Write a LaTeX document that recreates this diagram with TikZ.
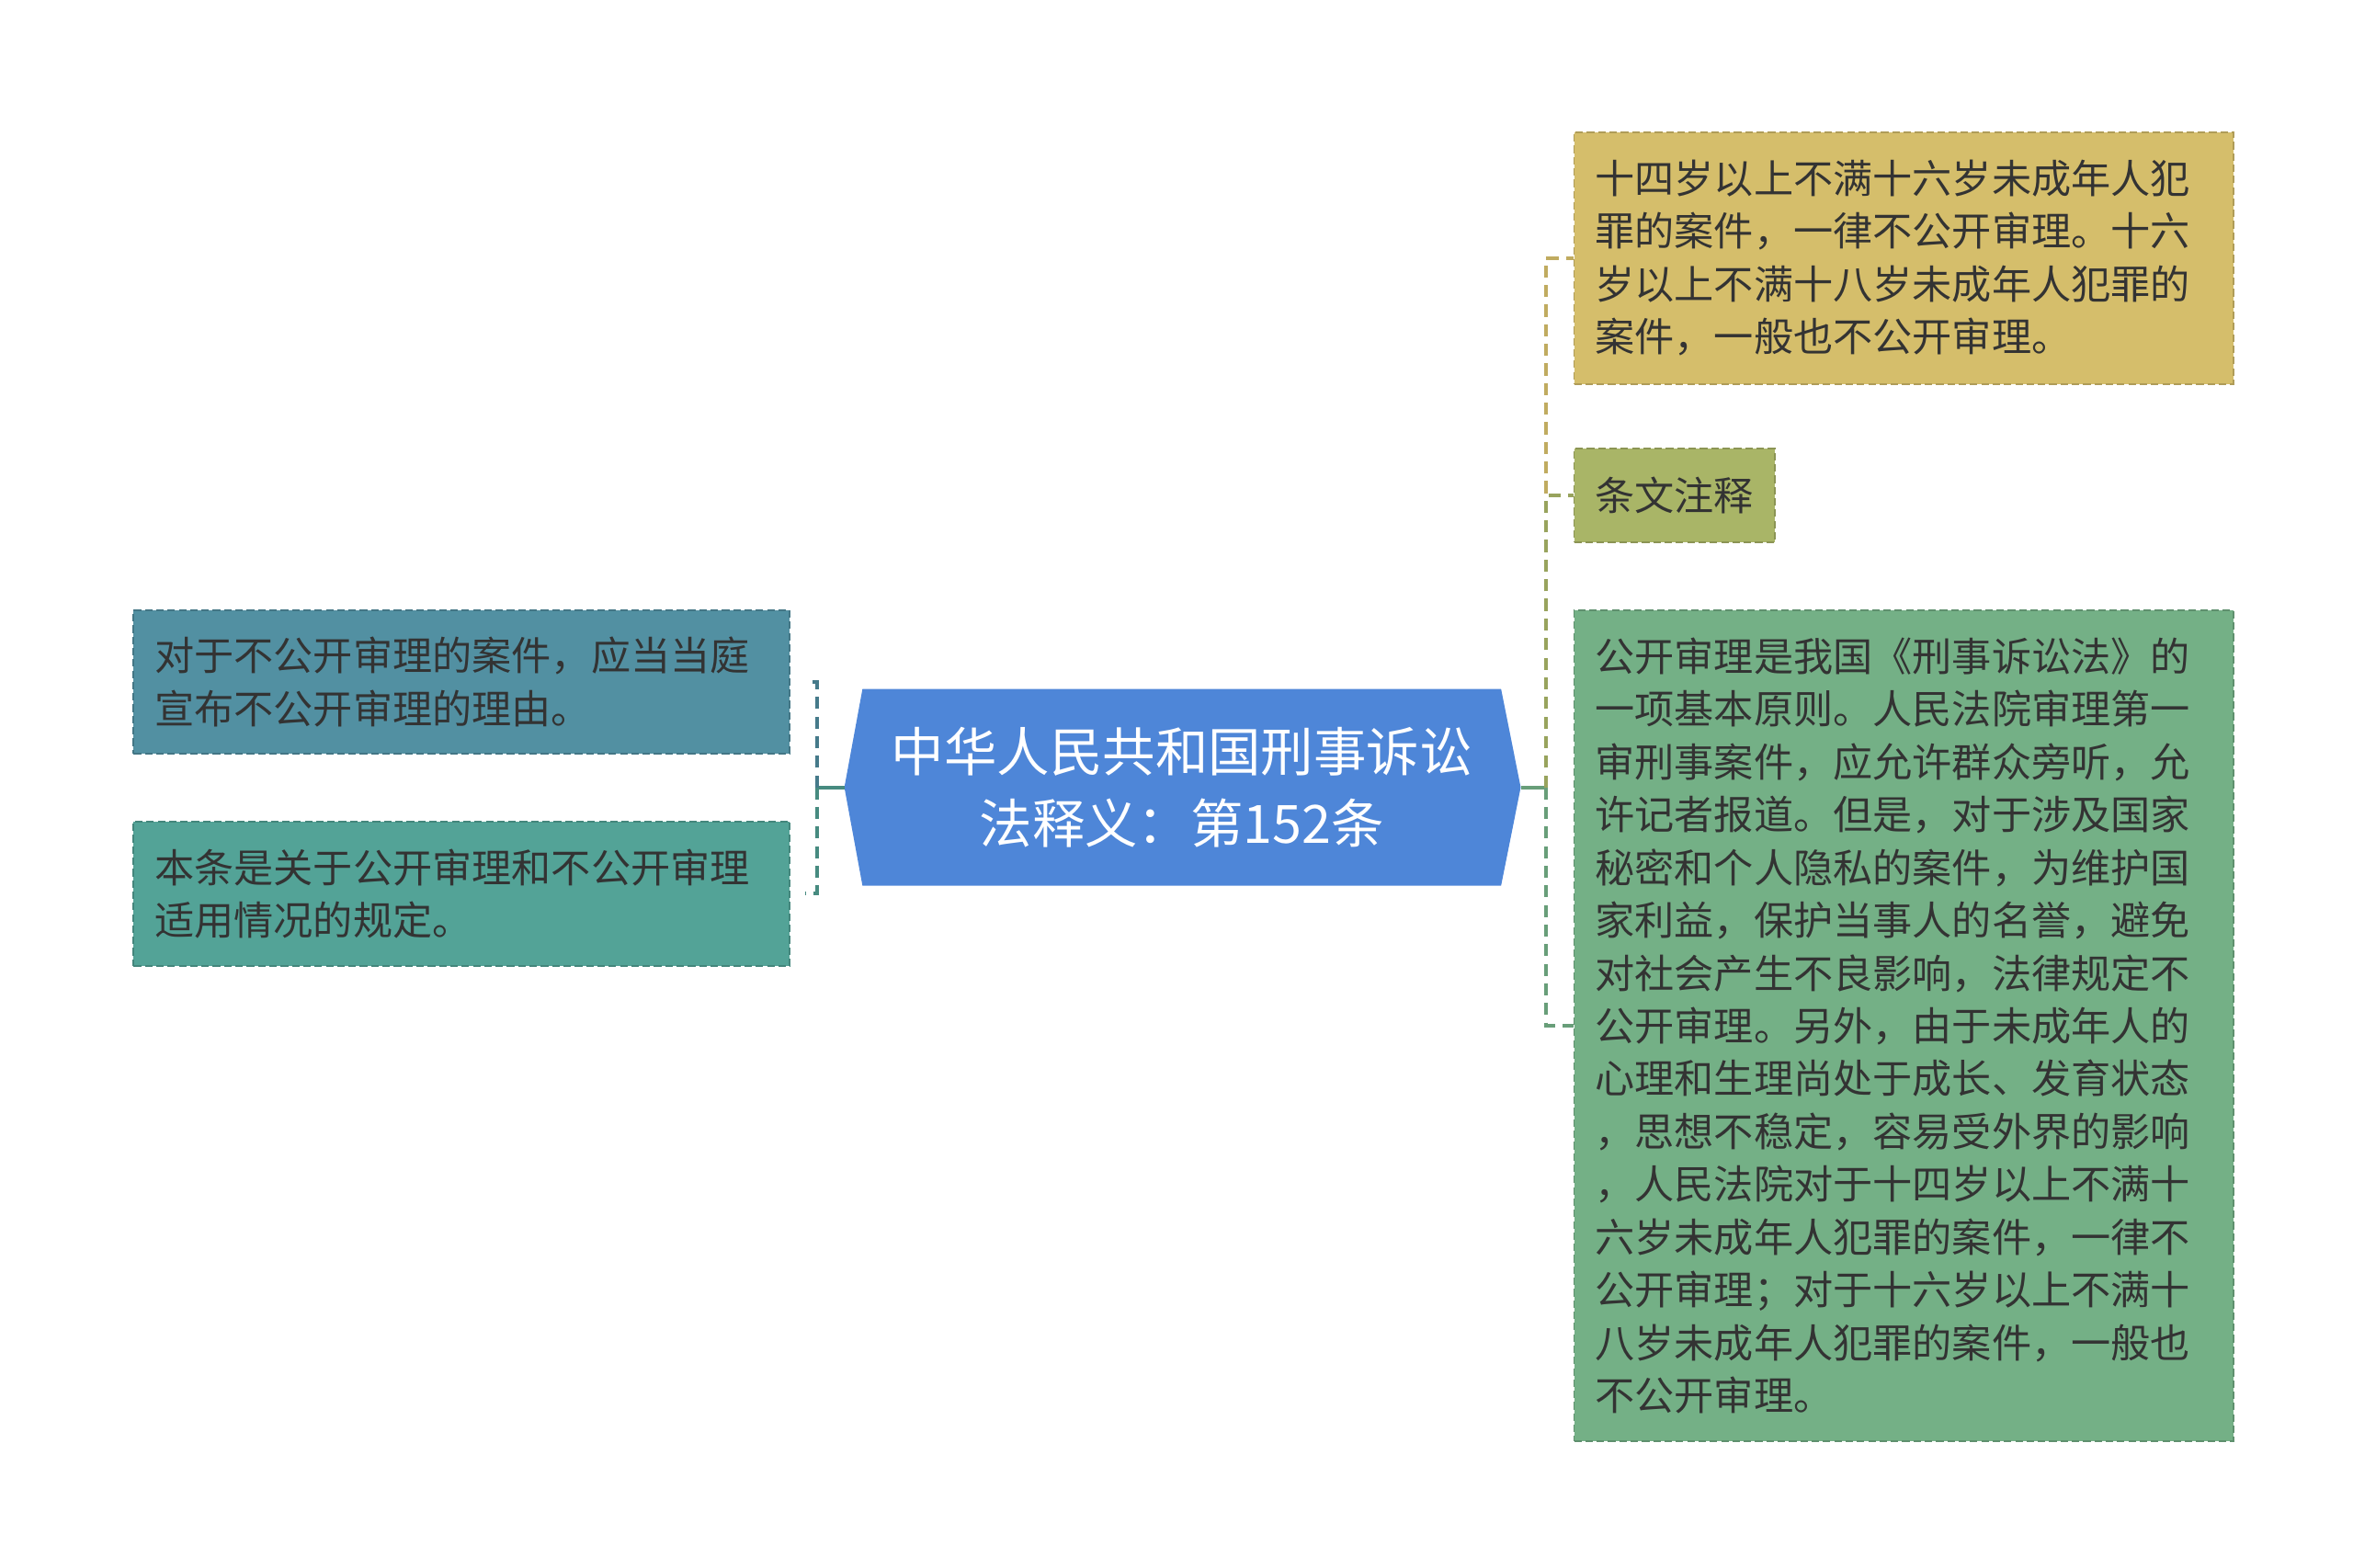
\documentclass[tikz,border=0pt]{standalone}
\usepackage{fontspec}
\newfontfamily\cjk{Noto Sans CJK SC}
\usetikzlibrary{backgrounds,calc}
\definecolor{hubc}{HTML}{4E86D8}
\definecolor{boxa}{HTML}{5290A2}
\definecolor{boxb}{HTML}{53A397}
\definecolor{boxy}{HTML}{D5BE6B}
\definecolor{boxo}{HTML}{A9B567}
\definecolor{boxg}{HTML}{74B086}
\definecolor{txt}{HTML}{333333}
\tikzset{
  leaf/.style={rectangle, draw=#1!82!black, fill=#1, dash pattern=on 5pt off 2.5pt,
    line width=1.1pt, inner xsep=14pt, inner ysep=0pt, anchor=north west, align=left,
    font=\cjk\fontsize{26.3}{35}\selectfont, text=txt},
  conn/.style={draw=#1, line width=2.4pt},
  dconn/.style={draw=#1, line width=2.4pt, dash pattern=on 8pt off 5pt},
}
\begin{document}
\begin{tikzpicture}[x=1pt,y=-1pt]
\useasboundingbox (0,0) rectangle (1560,1039);
% hub
\node[inner sep=0pt, minimum width=423pt, minimum height=130pt, align=center, text=white,
  font=\cjk\fontsize{35}{47}\selectfont] (hub) at (783.5,522) {中华人民共和国刑事诉讼\\法释义：第152条};
\coordinate (hubL) at ($(hub.west)+(-12,0)$);
\coordinate (hubR) at ($(hub.east)+(13,0)$);
\begin{scope}[on background layer]
\fill[hubc] (hub.north west) -- (hub.north east) -- (hubR) -- (hub.south east) -- (hub.south west) -- (hubL) -- cycle;
\end{scope}
% left leaves
\node[leaf=boxa, minimum width=435pt, minimum height=95pt, text width=407pt] (la) at (88,404)
  {对于不公开审理的案件，应当当庭\\宣布不公开审理的理由。};
\node[leaf=boxb, minimum width=435pt, minimum height=96pt, text width=407pt] (lb) at (88,544)
  {本条是关于公开审理和不公开审理\\适用情况的规定。};
% right leaves
\node[leaf=boxy, minimum width=437pt, minimum height=167pt, text width=409pt] (ry) at (1043,87)
  {十四岁以上不满十六岁未成年人犯\\罪的案件，一律不公开审理。十六\\岁以上不满十八岁未成年人犯罪的\\案件，一般也不公开审理。};
\node[leaf=boxo, minimum height=62pt] (ro) at (1043,297) {条文注释};
\node[leaf=boxg, minimum width=437pt, minimum height=551pt, text width=409pt] (rg) at (1043,404)
  {公开审理是我国《刑事诉讼法》的\\一项基本原则。人民法院审理第一\\审刑事案件，应允许群众旁听，允\\许记者报道。但是，对于涉及国家\\秘密和个人隐私的案件，为维护国\\家利益，保护当事人的名誉，避免\\对社会产生不良影响，法律规定不\\公开审理。另外，由于未成年人的\\心理和生理尚处于成长、发育状态\\，思想不稳定，容易受外界的影响\\，人民法院对于十四岁以上不满十\\六岁未成年人犯罪的案件，一律不\\公开审理；对于十六岁以上不满十\\八岁未成年人犯罪的案件，一般也\\不公开审理。};
% left connectors
\draw[conn=boxb!85!black] (hubL) -- ++(-18,0) coordinate (lj);
\draw[dconn=boxa!85!black] (lj) |- ($(la.east)+(10,0)$);
\draw[dconn=boxb!85!black] (lj) |- ($(lb.east)+(10,0)$);
% right connectors
\draw[conn=boxg!90!black] (hubR) -- ++(17,0) coordinate (rj);
\draw[dconn=boxg!90!black] (rj) |- (rg.west);
\draw[dconn=boxy!90!black] (rj) |- (ry.west);
\draw[dconn=boxo!90!black] (rj) |- (ro.west);
\end{tikzpicture}
\end{document}
